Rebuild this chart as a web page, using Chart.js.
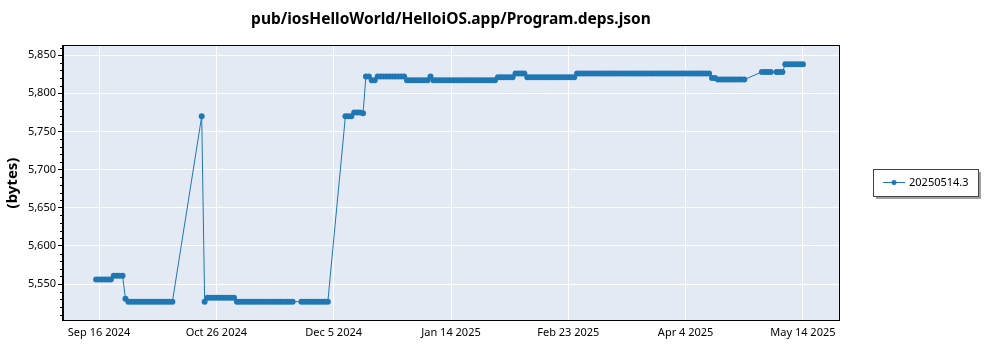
<!DOCTYPE html>
<html>
<head>
<meta charset="utf-8">
<script src="https://cdn.jsdelivr.net/npm/chart.js@4"></script>
<style>
  html, body { margin: 0; padding: 0; background: #fff; }
  #wrap { width: 1000px; height: 350px; }
</style>
</head>
<body>
<div id="wrap"><canvas id="chart"></canvas></div>
<script>
// Data: one value per day starting Sep 15 2024, null = no build that day
const firstDay = '2024-09-15';
const bytes = [
    5556, 5556, 5556, 5556, 5556, 5556, 5561, 5561, 5561, 5561, // Sep 15
    5531, 5527, 5527, 5527, 5527, 5527, 5527, 5527, 5527, 5527, // Sep 25
    5527, 5527, 5527, 5527, 5527, 5527, 5527, null, null, null, // Oct 5
    null, null, null, null, null, null, 5770, 5527, 5532, 5532, // Oct 15
    5532, 5532, 5532, 5532, 5532, 5532, 5532, 5532, 5527, 5527, // Oct 25
    5527, 5527, 5527, 5527, 5527, 5527, 5527, 5527, 5527, 5527, // Nov 4
    5527, 5527, 5527, 5527, 5527, 5527, 5527, 5527, null, null, // Nov 14
    5527, 5527, 5527, 5527, 5527, 5527, 5527, 5527, 5527, 5527, // Nov 24
    null, null, null, null, null, 5770, 5770, 5770, 5775, 5775, // Dec 4
    5775, 5774, 5822, 5822, 5817, 5817, 5822, 5822, 5822, 5822, // Dec 14
    5822, 5822, 5822, 5822, 5822, 5822, 5817, 5817, 5817, 5817, // Dec 24
    5817, 5817, 5817, 5817, 5822, 5817, 5817, 5817, 5817, 5817, // Jan 3
    5817, 5817, 5817, 5817, 5817, 5817, 5817, 5817, 5817, 5817, // Jan 13
    5817, 5817, 5817, 5817, 5817, 5817, 5817, 5821, 5821, 5821, // Jan 23
    5821, 5821, 5821, 5826, 5826, 5826, 5826, 5821, 5821, 5821, // Feb 2
    5821, 5821, 5821, 5821, 5821, 5821, 5821, 5821, 5821, 5821, // Feb 12
    5821, 5821, 5821, 5821, 5826, 5826, 5826, 5826, 5826, 5826, // Feb 22
    5826, 5826, 5826, 5826, 5826, 5826, 5826, 5826, 5826, 5826, // Mar 4
    5826, 5826, 5826, 5826, 5826, 5826, 5826, 5826, 5826, 5826, // Mar 14
    5826, 5826, 5826, 5826, 5826, 5826, 5826, 5826, 5826, 5826, // Mar 24
    5826, 5826, 5826, 5826, 5826, 5826, 5826, 5826, 5826, 5826, // Apr 3
    5820, 5820, 5818, 5818, 5818, 5818, 5818, 5818, 5818, 5818, // Apr 13
    5818, 5818, null, null, null, null, null, 5828, 5828, 5828, // Apr 23
    5828, null, 5828, 5828, 5828, 5838, 5838, 5838, 5838, 5838, // May 3
    5838, 5838                                                  // May 13
];
const seriesName = '20250514.3';
const chartTitle = 'pub/iosHelloWorld/HelloiOS.app/Program.deps.json';
const yTitle = '(bytes)';
const xTickDates = ['2024-09-16', '2024-10-26', '2024-12-05', '2025-01-14', '2025-02-23', '2025-04-04', '2025-05-14'];
const yTickValues = [5550, 5600, 5650, 5700, 5750, 5800, 5850];

const DAY = 86400000;
const months = ['Jan', 'Feb', 'Mar', 'Apr', 'May', 'Jun', 'Jul', 'Aug', 'Sep', 'Oct', 'Nov', 'Dec'];
const dayNum = s => Date.parse(s + 'T00:00:00Z') / DAY;
const fmtDate = d => {
    const dt = new Date(d * DAY);
    return months[dt.getUTCMonth()] + ' ' + dt.getUTCDate() + ' ' + dt.getUTCFullYear();
};

const start = dayNum(firstDay);
const points = bytes.map((v, i) => ({ x: start + i, y: v }));
const xTicks = xTickDates.map(dayNum);

const blue = '#1f77b4';
const FONT = '"Noto Sans", "Open Sans", sans-serif';

// plot background, frame, minor ticks and the boxed legend
const decor = {
    id: 'decor',
    beforeDraw(chart) {
        const { ctx, chartArea: a } = chart;
        ctx.save();
        ctx.fillStyle = '#e4eaf4';
        ctx.fillRect(a.left, a.top, a.right - a.left, a.bottom - a.top);
        ctx.restore();
    },
    afterDraw(chart) {
        const { ctx, chartArea: a } = chart;
        const y = chart.scales.y;
        ctx.save();
        ctx.strokeStyle = '#000';
        ctx.lineWidth = 1;
        ctx.strokeRect(a.left - 0.5, a.top - 0.5, a.right - a.left + 1, a.bottom - a.top + 1);
        // minor ticks on the y axis
        ctx.beginPath();
        for (let v = 5510; v <= 5860; v += 10) {
            if (v % 50 === 0) continue;
            const py = Math.round(y.getPixelForValue(v)) + 0.5;
            ctx.moveTo(a.left - 3, py);
            ctx.lineTo(a.left, py);
        }
        ctx.stroke();

        // legend box
        const lx = 873, ly = 169, lw = 105, lh = 27;
        ctx.fillStyle = '#a0a0a0';
        ctx.fillRect(lx + 3, ly + 3, lw, lh);
        ctx.fillStyle = '#fff';
        ctx.fillRect(lx, ly, lw, lh);
        ctx.strokeStyle = '#444';
        ctx.strokeRect(lx + 0.5, ly + 0.5, lw, lh);
        const my = ly + 13.5;
        ctx.strokeStyle = blue;
        ctx.beginPath();
        ctx.moveTo(lx + 10, my);
        ctx.lineTo(lx + 32, my);
        ctx.stroke();
        ctx.fillStyle = blue;
        ctx.beginPath();
        ctx.arc(lx + 21, my, 2.5, 0, Math.PI * 2);
        ctx.fill();
        ctx.fillStyle = '#000';
        ctx.font = '11px ' + FONT;
        ctx.textBaseline = 'middle';
        ctx.fillText(seriesName, lx + 36, my);
        ctx.restore();
    }
};

new Chart(document.getElementById('chart'), {
    type: 'line',
    data: {
        datasets: [{
            label: seriesName,
            data: points,
            borderColor: blue,
            backgroundColor: blue,
            borderWidth: 1,
            pointRadius: 3,
            pointBorderWidth: 0,
            pointHoverRadius: 3,
            spanGaps: true,
            tension: 0,
        }]
    },
    options: {
        animation: false,
        responsive: true,
        maintainAspectRatio: false,
        layout: { padding: { left: 4, right: 161, top: 0, bottom: 0 } },
        plugins: {
            legend: { display: false },
            tooltip: { enabled: false },
            title: {
                display: true,
                fullSize: false,
                text: chartTitle,
                color: '#000',
                font: { family: FONT, size: 15.5, weight: 'bold', lineHeight: 1.2 },
                padding: { top: 10, bottom: 17.4 },
            },
        },
        scales: {
            x: {
                type: 'linear',
                min: dayNum('2024-09-16') - 12.3,
                max: dayNum('2025-05-14') + 12.3,
                afterBuildTicks: s => { s.ticks = xTicks.map(v => ({ value: v })); },
                afterFit: s => { s.height = 30; },
                grid: { color: '#fff', lineWidth: 1, tickLength: 4, tickColor: 'rgba(0,0,0,0)' },
                border: { display: true, color: '#000' },
                ticks: {
                    callback: v => fmtDate(v),
                    color: '#000',
                    font: { family: FONT, size: 11 },
                    padding: 2,
                    maxRotation: 0,
                    autoSkip: false,
                },
            },
            y: {
                min: 5503,
                max: 5862,
                afterBuildTicks: s => { s.ticks = yTickValues.map(v => ({ value: v })); },
                afterFit: s => { s.width = 59; },
                grid: { color: '#fff', lineWidth: 1, tickLength: 5, tickColor: '#000' },
                border: { display: true, color: '#000' },
                title: {
                    display: true,
                    text: yTitle,
                    color: '#000',
                    font: { family: FONT, size: 15, weight: 'bold' },
                    padding: 0,
                },
                ticks: {
                    callback: v => v.toLocaleString('en-US'),
                    color: '#000',
                    font: { family: FONT, size: 11 },
                    padding: 2,
                },
            },
        },
    },
    plugins: [decor],
});
</script>
</body>
</html>
